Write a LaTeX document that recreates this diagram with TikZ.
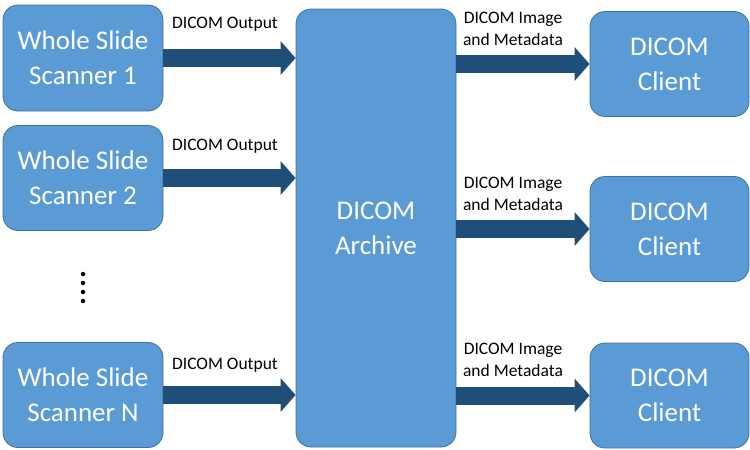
\documentclass[tikz,border=0pt]{standalone}
\usepackage{fontspec}
\setmainfont{Carlito}
\usetikzlibrary{arrows.meta}
\definecolor{boxfill}{HTML}{5B9BD5}
\definecolor{boxline}{HTML}{41719C}
\definecolor{arrowcol}{HTML}{1F4E79}
\tikzset{
  blockbox/.style={draw=boxline, line width=0.8pt, fill=boxfill, rounded corners=15pt,
    text=white, align=center, font=\fontsize{27}{35}\selectfont, inner sep=0pt},
  bigarrow/.style={draw=arrowcol, line width=18pt, line cap=butt,
    -{Triangle[length=15pt,width=33pt]}},
  lbl/.style={align=center, font=\fontsize{17.5}{22}\selectfont, inner sep=0pt, text=black},
  dotmark/.style={circle, fill=black, inner sep=0pt, minimum size=4.5pt}
}
\begin{document}
\begin{tikzpicture}[x=1pt,y=-1pt]
\useasboundingbox (0,0) rectangle (750,450);
\node[blockbox, minimum width=160pt, minimum height=106pt] (s1) at (83,58) {Whole Slide\\Scanner 1};
\node[blockbox, minimum width=160pt, minimum height=105pt] (s2) at (83,178) {Whole Slide\\Scanner 2};
\node[blockbox, minimum width=160pt, minimum height=105pt] (sn) at (83,395) {Whole Slide\\Scanner N};
\node[blockbox, minimum width=160pt, minimum height=438pt] (arch) at (376,228) {DICOM\\Archive};
\node[blockbox, minimum width=159pt, minimum height=105pt] (c1) at (669.5,64) {DICOM\\Client};
\node[blockbox, minimum width=159pt, minimum height=105pt] (c2) at (669.5,229) {DICOM\\Client};
\node[blockbox, minimum width=159pt, minimum height=105pt] (c3) at (669.5,395.5) {DICOM\\Client};
\node[dotmark] (d1) at (83,274) {};
\node[dotmark] (d2) at (83,283) {};
\node[dotmark] (d3) at (83,292) {};
\node[dotmark] (d4) at (83,301) {};
\draw[bigarrow] (s1.east) -- (arch.west|-s1.east);
\draw[bigarrow] (s2.east) -- (arch.west|-s2.east);
\draw[bigarrow] (sn.east) -- (arch.west|-sn.east);
\draw[bigarrow] (arch.east|-c1.west) -- (c1.west);
\draw[bigarrow] (arch.east|-c2.west) -- (c2.west);
\draw[bigarrow] (arch.east|-c3.west) -- (c3.west);
\node[lbl] (l1) at (225,24) {DICOM Output};
\node[lbl] (l2) at (225,146) {DICOM Output};
\node[lbl] (l3) at (225,365) {DICOM Output};
\node[lbl] (r1) at (513,29) {DICOM Image\\and Metadata};
\node[lbl] (r2) at (513,194) {DICOM Image\\and Metadata};
\node[lbl] (r3) at (513,360) {DICOM Image\\and Metadata};
\end{tikzpicture}
\end{document}
